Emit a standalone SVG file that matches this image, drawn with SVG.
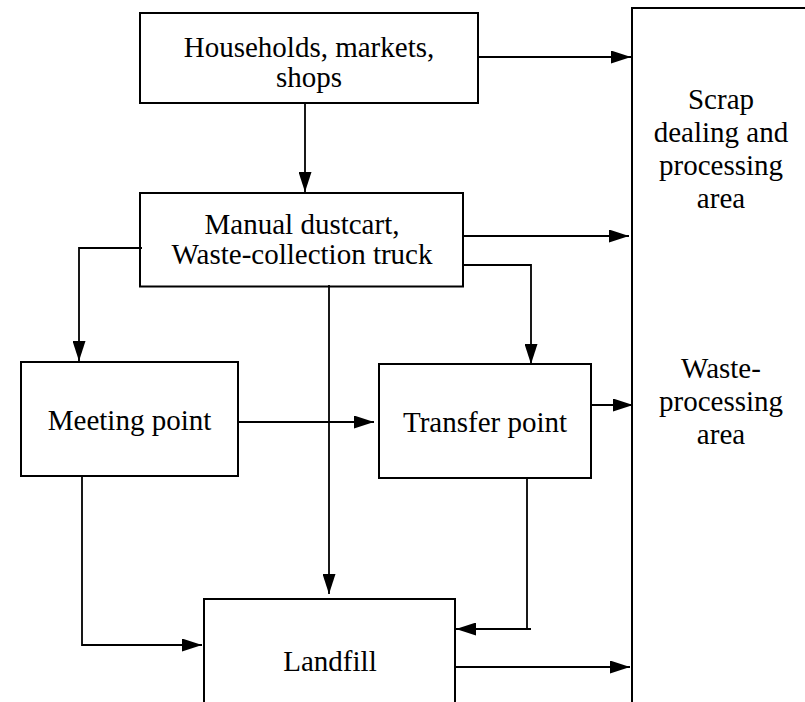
<svg xmlns="http://www.w3.org/2000/svg" width="805" height="702" viewBox="0 0 805 702" font-family="'Liberation Serif', 'Times New Roman', Times, serif" font-size="29">
<style>
.box{fill:#fff;stroke:#000;stroke-width:2}
text{font-family:'Liberation Serif','Times New Roman',Times,serif;font-size:29px;fill:#000;text-anchor:middle}
.c{fill:none;stroke:#000;stroke-width:1.8}
</style>
<defs>
<marker id="ah" markerUnits="userSpaceOnUse" markerWidth="20" markerHeight="13" refX="20" refY="6.5" orient="auto">
<path d="M0,0 L20,6.5 L0,13 z" fill="#000"/>
</marker>
</defs>
<rect width="805" height="702" fill="#fff"/>
<g id="area">
<rect class="box" x="632" y="8" width="200" height="720"/>
<text x="721" y="109">Scrap</text>
<text x="721" y="142">dealing and</text>
<text x="721" y="175">processing</text>
<text x="721" y="208">area</text>
<text x="721" y="378">Waste-</text>
<text x="721" y="411">processing</text>
<text x="721" y="444">area</text>
</g>
<g id="households">
<rect class="box" x="140" y="13" width="338" height="90"/>
<text x="309" y="57">Households, markets,</text>
<text x="309" y="87">shops</text>
</g>
<g id="manual">
<rect class="box" x="140" y="193" width="323" height="93.5"/>
<text x="302" y="234">Manual dustcart,</text>
<text x="302" y="264">Waste-collection truck</text>
</g>
<g id="meeting">
<rect class="box" x="21" y="362" width="217" height="114"/>
<text x="129.5" y="430">Meeting point</text>
</g>
<g id="transfer">
<rect class="box" x="379" y="364" width="212" height="114"/>
<text x="485" y="432">Transfer point</text>
</g>
<g id="landfill">
<rect class="box" x="204" y="599" width="251" height="130"/>
<text x="330" y="671">Landfill</text>
</g>
<g id="connectors">
<path class="c" d="M478,57 H631" marker-end="url(#ah)"/>
<path class="c" d="M305,103 V192" marker-end="url(#ah)"/>
<path class="c" d="M463,236 H629" marker-end="url(#ah)"/>
<path class="c" d="M142,248 H79 V361" marker-end="url(#ah)"/>
<path class="c" d="M463,265 H531 V364" marker-end="url(#ah)"/>
<path class="c" d="M329,285 V594" marker-end="url(#ah)"/>
<path class="c" d="M238,422 H374" marker-end="url(#ah)"/>
<path class="c" d="M591,405 H633" marker-end="url(#ah)"/>
<path class="c" d="M82,476 V645 H202" marker-end="url(#ah)"/>
<path class="c" d="M527,477 V629"/>
<path class="c" d="M531,629 H456" marker-end="url(#ah)"/>
<path class="c" d="M455,667 H630" marker-end="url(#ah)"/>
</g>
</svg>
